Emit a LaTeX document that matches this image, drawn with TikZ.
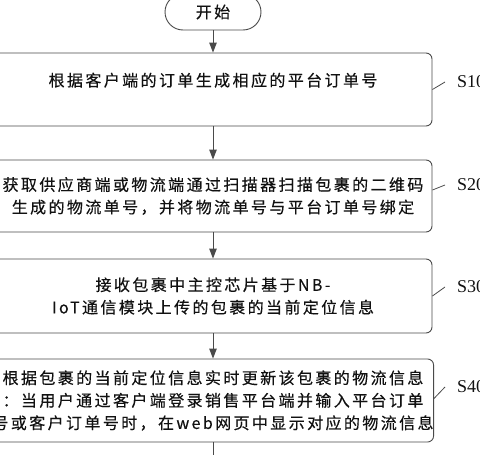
\documentclass[tikz,border=0pt]{standalone}
\usepackage{fontspec}
\setmainfont{Noto Sans CJK SC}[LetterSpace=15, FakeBold=0.4]
\newfontfamily\labelfont{Liberation Serif}
\usetikzlibrary{arrows.meta}
\definecolor{linegray}{HTML}{4A4A4A}
\definecolor{textgray}{HTML}{111111}

\begin{document}
\begin{tikzpicture}[x=1pt, y=-1pt,
    stepbox/.style={draw=linegray, line width=0.9pt, rounded corners=6pt, minimum width=438pt,
        align=center, inner sep=0pt, text=textgray, font=\fontsize{16}{22.5}\selectfont},
    terminal/.style={draw=linegray, line width=0.9pt, rounded corners=18pt, minimum width=96pt,
        minimum height=36pt, text=textgray, font=\fontsize{16}{20}\selectfont},
    steplabel/.style={anchor=west, inner sep=0pt, text=textgray, font=\labelfont\fontsize{18}{18}\selectfont},
    flow/.style={draw=linegray, line width=0.9pt, -{Triangle[length=10pt, width=7.5pt]}},
    tick/.style={draw=linegray, line width=0.8pt}]
    \useasboundingbox (0,0) rectangle (480,455);
    \clip (0,0) rectangle (480,455);

    % Start
    \node[terminal] (start) at (213,12) {开始};

    % Steps
    \node[stepbox, minimum height=73pt, text depth=20pt] (s1) at (213,89.5) {根据客户端的订单生成相应的平台订单号};
    \node[stepbox, minimum height=72pt] (s2) at (213,196) {获取供应商端或物流端通过扫描器扫描包裹的二维码\\生成的物流单号，并将物流单号与平台订单号绑定};
    \node[stepbox, minimum height=74pt] (s3) at (213,296) {接收包裹中主控芯片基于NB-\\IoT通信模块上传的包裹的当前定位信息};
    \node[stepbox, minimum height=83pt] (s4) at (213,400.5) {根据包裹的当前定位信息实时更新该包裹的物流信息\\：当用户通过客户端登录销售平台端并输入平台订单\\号或客户订单号时，在web网页中显示对应的物流信息};
    \coordinate (next) at (213,470);

    % Arrows
    \draw[flow] (start) -- (s1);
    \draw[flow] (s1) -- (s2);
    \draw[flow] (s2) -- (s3);
    \draw[flow] (s3) -- (s4);
    \draw[flow] (s4) -- (next);

    % Step labels
    \node[steplabel] (l1) at (457,82) {S10};
    \node[steplabel] (l2) at (457,185) {S20};
    \node[steplabel] (l3) at (457,287) {S30};
    \node[steplabel] (l4) at (457,387) {S40};
    \draw[tick] (s1.east) -- ([xshift=-12pt]l1.west);
    \draw[tick] ([yshift=6pt]s2.east) -- ([xshift=-12pt]l2.west);
    \draw[tick] (s3.east) -- ([xshift=-12pt]l3.west);
    \draw[tick] ([yshift=2pt]s4.east) -- ([xshift=-12pt]l4.west);
\end{tikzpicture}
\end{document}
